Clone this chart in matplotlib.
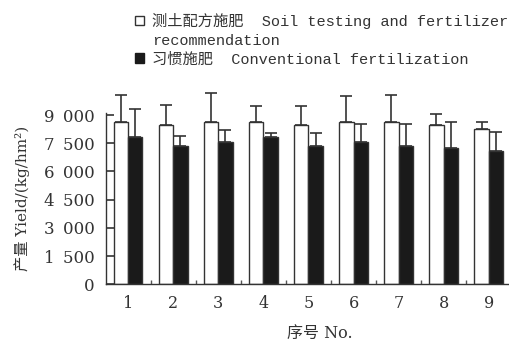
import matplotlib
matplotlib.use("Agg")
import matplotlib.pyplot as plt
from matplotlib.patches import Patch
import numpy as np

# data
groups = ["1", "2", "3", "4", "5", "6", "7", "8", "9"]
stfr = [8630, 8460, 8630, 8630, 8460, 8630, 8630, 8460, 8280]
stfr_err = [1460, 1090, 1530, 830, 1000, 1370, 1460, 580, 350]
conv = [7810, 7370, 7580, 7810, 7370, 7580, 7370, 7230, 7090]
conv_err = [1530, 530, 615, 260, 700, 920, 1130, 1400, 985]
yticks = [0, 1500, 3000, 4500, 6000, 7500, 9000]
ytick_labels = ["0", "1\u2002500", "3\u2002000", "4\u2002500", "6\u2002000", "7\u2002500", "9\u2002000"]

serif = ["DejaVu Serif", "Noto Sans CJK SC"]
mono = ["Liberation Mono", "Noto Sans CJK SC"]

fig = plt.figure(figsize=(5.1, 3.42), dpi=100)
ax = fig.add_axes([106 / 510, 0.1687, 404 / 510, 0.5009])

x = np.arange(1, len(groups) + 1)
w = 0.32
edge = "#333333"

b1 = ax.bar(x - w / 2, stfr, w, color="white", edgecolor=edge, linewidth=1.0, zorder=2)
b2 = ax.bar(x + w / 2, conv, w, color="#1a1a1a", edgecolor=edge, linewidth=1.0, zorder=2)

ax.errorbar(x - w / 2, stfr, yerr=[np.zeros(len(stfr)), stfr_err], fmt="none",
            ecolor="#333333", elinewidth=1.2, capsize=4, capthick=1.2, clip_on=False, zorder=3)
ax.errorbar(x + w / 2, conv, yerr=[np.zeros(len(conv)), conv_err], fmt="none",
            ecolor="#333333", elinewidth=1.2, capsize=4, capthick=1.2, clip_on=False, zorder=3)

ax.set_xlim(0.512, 9.47)
ax.set_ylim(0, 9110)

ax.spines["top"].set_visible(False)
ax.spines["right"].set_visible(False)
for s in ["left", "bottom"]:
    ax.spines[s].set_color("#333333")
    ax.spines[s].set_linewidth(1.0)

ax.set_yticks(yticks)
ax.set_yticklabels(ytick_labels, family=serif, fontsize=12, color="#333333")
ax.tick_params(axis="y", direction="in", length=6, width=1.2, color="#333333", pad=8)

ax.set_xticks(x)
ax.set_xticklabels(groups, family=serif, fontsize=11.5, color="#333333")
ax.tick_params(axis="x", which="major", length=0, pad=8)
ax.set_xticks(x[:-1] + 0.5, minor=True)
ax.tick_params(axis="x", which="minor", direction="in", length=3, width=1.0, color="#555555")

ax.set_xlabel("序号 No.", family=serif, fontsize=11.5, color="#333333")
ax.xaxis.set_label_coords((320 - 106) / 404, -(333 - 284) / 171.3, transform=ax.transAxes)
ax.xaxis.label.set_verticalalignment("center")
ax.set_ylabel("产量 Yield/(kg/hm²)", family=serif, fontsize=11, color="#333333")
ax.yaxis.set_label_coords(-(106 - 22) / 404, 0.5, transform=ax.transAxes)
ax.yaxis.label.set_verticalalignment("center")

handles = [Patch(facecolor="white", edgecolor="#333333", linewidth=1.0),
           Patch(visible=False),
           Patch(facecolor="#1a1a1a", edgecolor="#1a1a1a", linewidth=1.0)]
labels = ["测土配方施肥  Soil testing and fertilizer",
          "recommendation",
          "习惯施肥  Conventional fertilization"]
leg = ax.legend(handles, labels, loc="upper left",
                bbox_to_anchor=(135 / 510, 1 - 13 / 342), bbox_transform=fig.transFigure,
                frameon=False, prop={"family": mono, "size": 11},
                handlelength=0.6, handleheight=0.6, handletextpad=0.5,
                labelspacing=0.3, borderpad=0, borderaxespad=0)
for t in leg.get_texts():
    t.set_color("#333333")

fig.savefig("out.png", dpi=100)
